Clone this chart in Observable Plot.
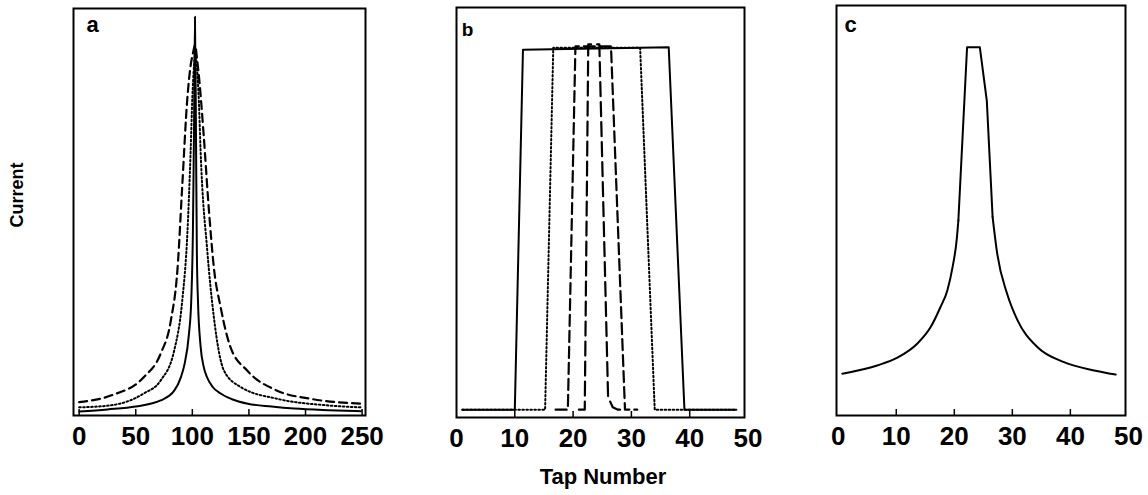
<!DOCTYPE html>
<html><head><meta charset="utf-8">
<script src="https://cdn.jsdelivr.net/npm/d3@7"></script>
<script src="https://cdn.jsdelivr.net/npm/@observablehq/plot@0.6"></script>
<style>
html,body{margin:0;padding:0;background:#fff;}
#chart{position:relative;width:1148px;height:495px;overflow:hidden;background:#fff;font-family:"Liberation Sans",Arial,sans-serif;}
.panel{position:absolute;top:0;z-index:1;}
#ylab{position:absolute;z-index:5;left:17px;top:195px;transform:translate(-50%,-50%) rotate(-90deg);font:bold 18px "Liberation Sans",Arial,sans-serif;white-space:nowrap;color:#000;}
#xlab{position:absolute;z-index:5;left:603px;top:477px;transform:translate(-50%,-50%);font:bold 22px "Liberation Sans",Arial,sans-serif;white-space:nowrap;color:#000;}
</style></head>
<body><div id="chart"><div id="ylab">Current</div><div id="xlab">Tap Number</div></div>
<script>
// ---------- Data ----------
const yLabel = "Current";
const xLabel = "Tap Number";
const panelLabels = ["a", "b", "c"];

// Panel a (taps 0-250)
const aTicks = [0, 50, 100, 150, 200, 250];
const aSolidX = [0, 25, 50, 72, 84, 90, 93, 97, 99, 100.5, 101.5, 102.3, 103.2, 104, 105, 107.3, 110, 113, 118, 125, 135, 149, 170, 190, 220, 249];
const aSolidY = [1.0, 1.5, 2.2, 3.7, 6.1, 9.5, 12.5, 20, 28, 45, 70, 98, 70, 40, 28, 17, 12, 9.4, 7, 5.4, 4, 2.9, 2.2, 1.7, 1.3, 1.05];
const aDotX = [0, 28, 57, 72, 84, 91, 95.6, 98.5, 100, 101.5, 102.8, 104.2, 105.8, 107.3, 113.2, 119, 128, 142.7, 175, 219, 249];
const aDotY = [2.0, 2.5, 5.4, 8.6, 16, 28, 44.7, 65, 78, 86, 89, 85, 77, 65, 40.5, 24.2, 11, 7, 4.1, 2.5, 2.0];
const aDashX = [0, 28, 57, 72, 81, 87, 91, 95.6, 98.5, 100.5, 102.5, 104, 105.6, 110, 114.5, 119, 125, 133.7, 148.6, 175, 204.6, 249];
const aDashY = [3.3, 4.9, 9.4, 15.2, 23.3, 36.4, 56, 78, 86, 89, 91, 88, 84, 69, 51, 36.4, 26.6, 16.8, 11, 6.1, 4.1, 2.9];

// Panel b (taps 0-50)
const bTicks = [0, 10, 20, 30, 40, 50];
const bSolidX = [1, 10, 11.4, 24, 36.4, 39.1, 48];
const bSolidY = [1.9, 1.9, 89.7, 90, 90.3, 1.9, 1.9];
const bDotX = [1, 15.2, 16.6, 31.5, 34, 48];
const bDotY = [1.9, 1.9, 90.2, 90.2, 1.9, 1.9];
const bDashX = [17, 19.1, 20.4, 26.5, 28.9, 31];
const bDashY = [1.9, 1.9, 90.5, 90.5, 1.9, 1.9];
const bLongX = [21, 22, 22.6, 24.5, 26, 26.8, 27.7, 28.5];
const bLongY = [1.9, 1.9, 91, 91, 5, 2.5, 1.9, 1.9];

// Panel c (taps 0-50)
const cTicks = [0, 10, 20, 30, 40, 50];
const cX = [0.7, 6.7, 10.2, 13.6, 15.9, 17.6, 18.8, 19.7, 20.4, 20.7, 22.2, 24.4, 25.6, 26.6, 27.4, 29.1, 30.9, 34.3, 38.9, 44.1, 47.8];
const cY = [10.2, 12.2, 14.1, 17.5, 21.5, 26.4, 30.5, 36.2, 42.7, 47.6, 89.8, 89.8, 76.8, 48.4, 39.4, 29.7, 23.2, 16.7, 13, 11, 10];
const cPeakStart = 9, cPeakEnd = 13; // indices of the straight-sided peak section

// ---------- Drawing ----------
const rows = (xs, ys, a = 0, b = xs.length - 1) => xs.slice(a, b + 1).map((x, i) => ({x, y: ys[a + i]}));
const STY = {
  solid: {strokeWidth: 2},
  dot: {strokeWidth: 2, strokeDasharray: "1.6,2.4"},
  dash: {strokeWidth: 2.2, strokeDasharray: "8,5"},
  dashB: {strokeWidth: 2.2, strokeDasharray: "11,5"},
  long: {strokeWidth: 2.2, strokeDasharray: "14,6"}
};
const tickFont = "'Liberation Sans Narrow','Liberation Sans',Arial,sans-serif";

function panel(o) {
  const innerH = o.height - o.mt - o.mb;
  const marks = [];
  for (const s of o.series) {
    marks.push(Plot.line(s.data, {x: "x", y: "y", stroke: "#000", curve: s.curve || "linear", strokeLinejoin: "round", ...STY[s.style]}));
  }
  marks.push(Plot.tickX(o.ticks.filter(t => t > o.domain[0] + 2 && t < o.domain[1] - 2), {x: d => d, insetTop: innerH - 6, stroke: "#000", strokeWidth: 1.5}));
  marks.push(Plot.frame({stroke: "#000", strokeWidth: 2}));
  marks.push(Plot.axisX(o.ticks, {tickSize: 0, tickPadding: 11, label: null, fontSize: 26, fontWeight: "bold", fontFamily: tickFont, fill: "#000"}));
  marks.push(Plot.text([o.label], {text: d => d, frameAnchor: "top-left", dx: o.ldx, dy: o.ldy, fontSize: o.lfs, fontWeight: "bold", textAnchor: "middle", lineAnchor: "middle", fill: "#000"}));
  const svg = Plot.plot({
    width: o.width, height: o.height,
    marginLeft: o.ml, marginRight: o.mr, marginTop: o.mt, marginBottom: o.mb,
    x: {domain: o.domain},
    y: {domain: [0, 100], axis: null},
    style: {background: "transparent", color: "#000", fontFamily: "'Liberation Sans',Arial,sans-serif", overflow: "visible"},
    marks
  });
  svg.classList.add("panel");
  svg.style.left = o.left + "px";
  svg.style.position = "absolute";
  svg.style.top = "0px";
  document.getElementById("chart").appendChild(svg);
}

panel({
  left: 0, width: 400, height: 470, ml: 73, mr: 35, mt: 8, mb: 55,
  domain: [-5, 253], ticks: aTicks, label: panelLabels[0], ldx: 19, ldy: 16, lfs: 22,
  series: [
    {data: rows(aDashX, aDashY), style: "dash", curve: "monotone-x"},
    {data: rows(aDotX, aDotY), style: "dot", curve: "monotone-x"},
    {data: rows(aSolidX, aSolidY), style: "solid", curve: "monotone-x"}
  ]
});
panel({
  left: 400, width: 380, height: 470, ml: 56, mr: 36, mt: 7, mb: 53,
  domain: [0, 49.4], ticks: bTicks, label: panelLabels[1], ldx: 11, ldy: 22, lfs: 19,
  series: [
    {data: rows(bSolidX, bSolidY), style: "solid"},
    {data: rows(bDotX, bDotY), style: "dot"},
    {data: rows(bDashX, bDashY), style: "dashB"},
    {data: rows(bLongX, bLongY), style: "long"}
  ]
});
panel({
  left: 780, width: 368, height: 470, ml: 56, mr: 23, mt: 5, mb: 55,
  domain: [-0.3, 49.5], ticks: cTicks, label: panelLabels[2], ldx: 14, ldy: 19, lfs: 22,
  series: [
    {data: rows(cX, cY, 0, cPeakStart), style: "solid", curve: "monotone-x"},
    {data: rows(cX, cY, cPeakStart, cPeakEnd), style: "solid"},
    {data: rows(cX, cY, cPeakEnd, cX.length - 1), style: "solid", curve: "monotone-x"}
  ]
});
</script>
</body></html>
